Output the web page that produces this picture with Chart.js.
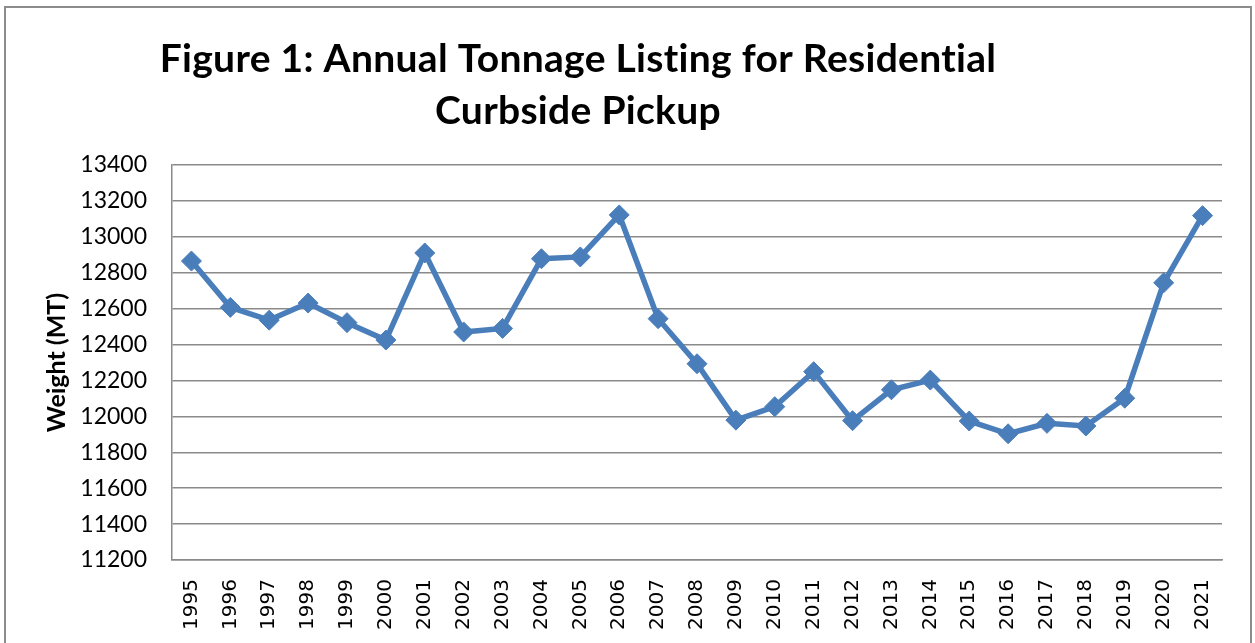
<!DOCTYPE html>
<html>
<head>
<meta charset="utf-8">
<script src="https://cdn.jsdelivr.net/npm/chart.js@4/dist/chart.umd.min.js"></script>
<style>
  html, body { margin: 0; padding: 0; background: #fff; }
  #wrap { width: 1255px; height: 643px; }
</style>
</head>
<body>
<div id="wrap"><canvas id="linechart"></canvas></div>
<script>
const years = ["1995", "1996", "1997", "1998", "1999", "2000", "2001", "2002", "2003",
  "2004", "2005", "2006", "2007", "2008", "2009", "2010", "2011", "2012", "2013",
  "2014", "2015", "2016", "2017", "2018", "2019", "2020", "2021"];
const tonnage = [12865, 12607, 12536, 12631, 12522, 12425, 12910, 12470, 12490,
  12878, 12888, 13122, 12544, 12293, 11979, 12054, 12249, 11976, 12148,
  12202, 11974, 11903, 11961, 11946, 12101, 12744, 13118];
const titleLines = ["Figure 1: Annual Tonnage Listing for Residential", "Curbside Pickup"];
const yTitle = "Weight (MT)";

const gridGray = "#8a8a8a";
const lineBlue = "rgb(74, 126, 187)";

// frame + two-line title, drawn where Excel put them
const frameAndTitle = {
  id: "frameAndTitle",
  beforeDraw(chart) {
    const c = chart.ctx;
    c.save();
    c.strokeStyle = "#8c8c8c";
    c.lineWidth = 2;
    c.beginPath();
    c.moveTo(5, 643);
    c.lineTo(5, 7);
    c.lineTo(1251, 7);
    c.lineTo(1251, 643);
    c.stroke();
    c.restore();
  },
  afterDraw(chart) {
    const c = chart.ctx;
    c.save();
    c.fillStyle = "#000";
    c.font = "bold 39px Lato";
    c.letterSpacing = "0.3px"; // keeps Lato from making "ti" ligatures
    c.textAlign = "center";
    c.textBaseline = "middle";
    c.fillText(titleLines[0], 578, 59);
    c.fillText(titleLines[1], 578, 111);
    c.restore();
  },
};

new Chart(document.getElementById("linechart"), {
  type: "line",
  data: {
    labels: years,
    datasets: [
      {
        label: "Tonnage",
        data: tonnage,
        borderColor: lineBlue,
        backgroundColor: lineBlue,
        borderWidth: 5.5,
        pointStyle: "rectRot",
        pointRadius: 10,
        pointHoverRadius: 10,
        pointBorderWidth: 1,
        tension: 0,
      },
    ],
  },
  options: {
    responsive: true,
    maintainAspectRatio: false,
    animation: false,
    layout: {
      padding: { top: 165, left: 0, right: 33, bottom: 0 },
    },
    plugins: {
      legend: { display: false },
      title: { display: false },
      tooltip: { enabled: false },
    },
    scales: {
      x: {
        offset: true,
        grid: { display: false },
        border: { display: true, color: gridGray, width: 1.5 },
        ticks: {
          color: "#000",
          font: { family: "DejaVu Sans", size: 20 },
          minRotation: 90,
          maxRotation: 90,
          autoSkip: false,
          padding: 11,
        },
        afterFit(scale) {
          scale.height = 83;
        },
      },
      y: {
        min: 11200,
        max: 13400,
        grid: { color: gridGray, lineWidth: 1.5, drawTicks: false },
        border: { display: true, color: gridGray, width: 1.5 },
        ticks: {
          stepSize: 200,
          color: "#000",
          font: { family: "Lato", size: 23 },
          padding: 25,
          callback: (v) => String(v),
        },
        title: {
          display: true,
          text: yTitle,
          color: "#000",
          font: { family: "Lato", size: 25, weight: "bold" },
          padding: { top: 42, bottom: 0 },
        },
        afterFit(scale) {
          scale.width = 172;
        },
      },
    },
  },
  plugins: [frameAndTitle],
});
</script>
</body>
</html>
